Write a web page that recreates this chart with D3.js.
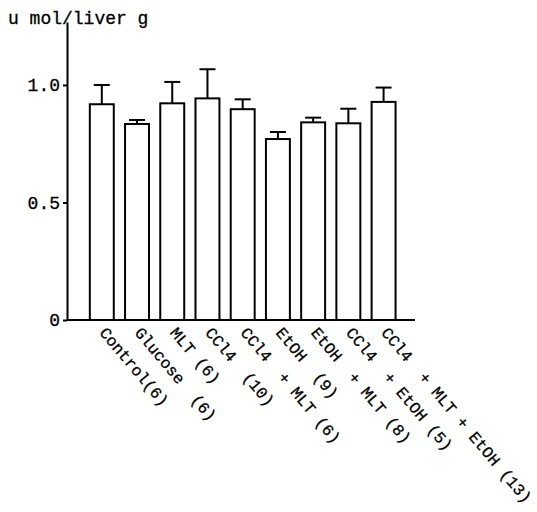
<!DOCTYPE html>
<html>
<head>
<meta charset="utf-8">
<script src="https://cdn.jsdelivr.net/npm/d3@7"></script>
<style>
  body { margin: 0; background: #fff; }
  text { font-family: "Liberation Mono", "DejaVu Sans Mono", monospace; fill: #000; stroke: #000; stroke-width: 0.3px; }
  .lbl { white-space: pre; }
</style>
</head>
<body>
<div id="chart"></div>
<script>
// group labels (n in brackets) as typed on the original figure
const groups = ["Control(6)", "Glucose  (6)", "MLT (6)", "CCl4  (10)", "CCl4  + MLT (6)",
                "EtOH  (9)", "EtOH  + MLT (8)", "CCl4  + EtOH (5)", "CCl4  + MLT + EtOH (13)"];
// mean values, u mol / liver g
const means = [0.918, 0.834, 0.922, 0.943, 0.897, 0.770, 0.841, 0.837, 0.928];
// error bar (upper half only)
const errs = [0.082, 0.017, 0.091, 0.124, 0.042, 0.030, 0.020, 0.062, 0.061];
const yTicks = [0, 0.5, 1.0];
const yTickLabels = ["0", "0.5", "1.0"];

const width = 537, height = 512;
const svg = d3.select("#chart").append("svg")
    .attr("width", width)
    .attr("height", height);

const x = d3.scaleBand().domain(groups).range([67, 415])
    .paddingInner(0.32).paddingOuter(0.6).align(0.54);
const y = d3.scaleLinear().domain([0, 1.268]).range([320, 22]);

// bars
svg.selectAll(".bar").data(groups).enter().append("rect")
    .attr("class", "bar")
    .attr("x", d => x(d))
    .attr("y", (d, i) => y(means[i]))
    .attr("width", x.bandwidth())
    .attr("height", (d, i) => y(0) - y(means[i]))
    .attr("fill", "#fff")
    .attr("stroke", "#000")
    .attr("stroke-width", 2);

// error bars
const eb = svg.selectAll(".err").data(groups).enter().append("g").attr("class", "err");
eb.append("line")
    .attr("x1", d => x(d) + x.bandwidth() / 2)
    .attr("x2", d => x(d) + x.bandwidth() / 2)
    .attr("y1", (d, i) => y(means[i]))
    .attr("y2", (d, i) => y(means[i] + errs[i]))
    .attr("stroke", "#000").attr("stroke-width", 2);
eb.append("line")
    .attr("x1", d => x(d) + x.bandwidth() / 2 - 8)
    .attr("x2", d => x(d) + x.bandwidth() / 2 + 8)
    .attr("y1", (d, i) => y(means[i] + errs[i]))
    .attr("y2", (d, i) => y(means[i] + errs[i]))
    .attr("stroke", "#000").attr("stroke-width", 2);

// y axis
const yAxis = svg.append("g")
    .attr("transform", "translate(67,0)")
    .call(d3.axisLeft(y).tickValues(yTicks)
        .tickFormat((d, i) => yTickLabels[i])
        .tickSize(4).tickSizeOuter(0).tickPadding(3));
yAxis.select(".domain").attr("stroke-width", 2);
yAxis.selectAll(".tick line").attr("stroke-width", 2);
yAxis.selectAll(".tick text")
    .attr("font-family", null)
    .style("font-size", "18px");

// x baseline
svg.append("line")
    .attr("x1", x.range()[0]).attr("x2", x.range()[1])
    .attr("y1", y(0)).attr("y2", y(0))
    .attr("stroke", "#000").attr("stroke-width", 2);

// rotated group labels
svg.selectAll(".lbl").data(groups).enter().append("text")
    .attr("class", "lbl")
    .attr("transform", d => "translate(" + (x(d) + x.bandwidth() / 2 - 3) + ",333) rotate(50)")
    .style("font-size", "16.2px")
    .text(d => d);

// unit label
svg.append("text")
    .attr("x", 8).attr("y", 24)
    .style("font-size", "18px")
    .text("u mol/liver g");
</script>
</body>
</html>
